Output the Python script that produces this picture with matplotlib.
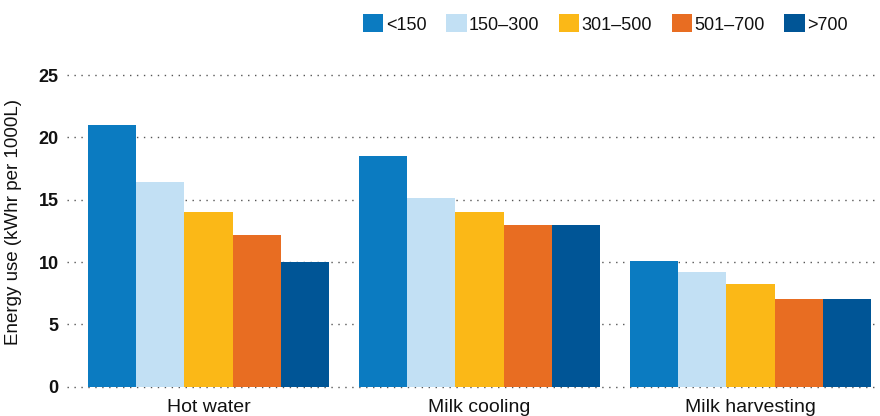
import numpy as np
import matplotlib
matplotlib.use("Agg")
import matplotlib.pyplot as plt
from matplotlib.patches import Patch

plt.rcParams['font.family'] = ['Liberation Sans', 'DejaVu Sans']

# Energy use per herd-size band for each dairy operation
categories = ["Hot water", "Milk cooling", "Milk harvesting"]
series_labels = ["<150", "150\u2013300", "301\u2013500", "501\u2013700", ">700"]
values = {
    "<150":      [21.0, 18.5, 10.1],
    "150\u2013300": [16.4, 15.1, 9.2],
    "301\u2013500": [14.0, 14.0, 8.2],
    "501\u2013700": [12.2, 13.0, 7.0],
    ">700":      [10.0, 13.0, 7.0],
}
colors = ["#0B7BC1", "#C2E0F4", "#FBB817", "#E86D22", "#005596"]
y_ticks = [0, 5, 10, 15, 20, 25]

fig = plt.figure(figsize=(8.8, 4.16), dpi=100)
ax = fig.add_axes([67 / 880, 1 - 386.7 / 416, 813 / 880, 311.7 / 416])

x = np.arange(len(categories))
width = 0.178
for i, (lab, col) in enumerate(zip(series_labels, colors)):
    offs = (i - 2) * width
    ax.bar(x + offs, values[lab], width=width, color=col, zorder=2, linewidth=0)

ax.set_xlim(-0.522, 2.478)
ax.set_ylim(0, 25)
ax.set_yticks(y_ticks)
ax.set_yticklabels([str(t) for t in y_ticks], fontsize=13, fontweight='bold', color='#111111')
ax.set_xticks(x)
ax.set_xticklabels(categories, fontsize=14, color='#111111')
ax.tick_params(axis='y', length=0, pad=6)
ax.tick_params(axis='x', length=0, pad=8.5)

for t in y_ticks:
    ax.axhline(t, color='#555555', linewidth=1.0, linestyle=(0, (1, 4)), zorder=1, clip_on=False)

for s in ax.spines.values():
    s.set_visible(False)

ax.set_ylabel("Energy use (kWhr per 1000L)", fontsize=13.5, color='#111111')
ax.yaxis.set_label_coords(-0.055, 0.527)

handles = [Patch(facecolor=c, edgecolor='none', label=l) for c, l in zip(colors, series_labels)]
fig.legend(handles=handles, loc='center right', bbox_to_anchor=(848 / 880, 1 - 24 / 416),
           ncol=5, frameon=False, fontsize=13, handlelength=1.15, handleheight=1.15,
           handletextpad=0.12, columnspacing=1.08, borderpad=0, borderaxespad=0,
           labelcolor='#111111')

fig.savefig("out.png", dpi=100)
